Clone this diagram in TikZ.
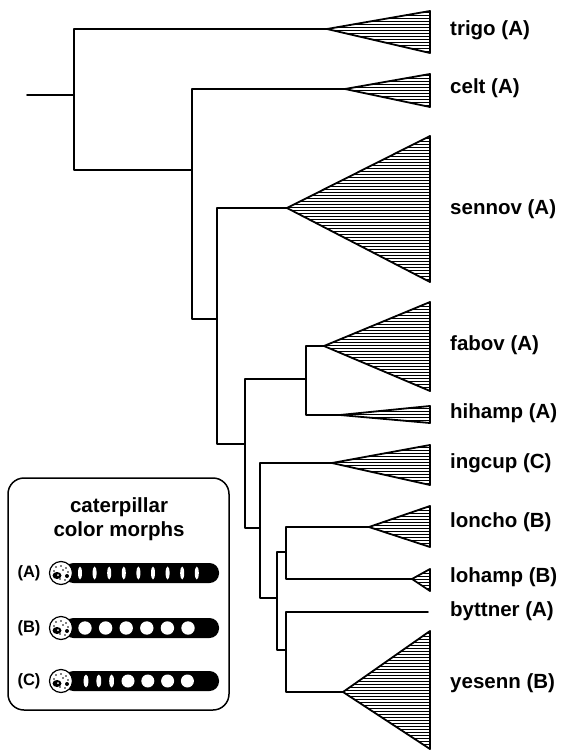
\documentclass[tikz,border=0pt]{standalone}
\usepackage{fontspec}
\setmainfont{Liberation Sans}
\newcommand{\clade}[3]{%
  \coordinate (#1-t) at (430,#2);
  \coordinate (#1-b) at (430,#3);
  \begin{scope}
    \clip (#1) -- (#1-t) -- (#1-b) -- cycle;
    \foreach \hy in {0,3,...,750} \draw [hatch] (280,\hy) -- (440,\hy);
  \end{scope}
  \draw [tri] (#1) -- (#1-t) -- (#1-b) -- cycle;
}
\newcommand{\larva}[1]{%
  \fill [rounded corners=9.5pt] (64,#1-10) rectangle (219,#1+10);
  \draw [line width=1.2pt,fill=white] (61,#1) circle (11.5pt);
  \fill (57,#1+2.5) ellipse (4.5pt and 3.5pt);
  \fill (67,#1+3) circle (2pt);
  \fill [white] (58,#1+2) circle (1pt);
  \foreach \dx/\dy in {-5/-6,0/-7,5/-5,-7/-2,2/-3,7/-1,-1/6,4/7} \fill (61+\dx,#1+\dy) circle (0.8pt);
}

\begin{document}
\begin{tikzpicture}[line cap=round,line join=round,x=1pt,y=-1pt,
  branch/.style={line width=1.7pt},
  tri/.style={line width=1.8pt},
  hatch/.style={line width=0.9pt},
  lab/.style={anchor=west,inner sep=0pt,font=\fontsize{20.5}{24}\selectfont\bfseries},
  morph/.style={inner sep=0pt,font=\fontsize{16.5}{18}\selectfont\bfseries}]

\useasboundingbox (0,0) rectangle (561,751);

% tree nodes
\coordinate (base) at (27,95);
\coordinate (r) at (74,95);
\coordinate (trigo) at (327,29);
\coordinate (n2) at (192,170);
\coordinate (celt) at (345,89);
\coordinate (n3) at (217,319);
\coordinate (sennov) at (287,208);
\coordinate (n4) at (245,444);
\coordinate (n5) at (306,379);
\coordinate (fabov) at (324,346);
\coordinate (hihamp) at (340,415);
\coordinate (n6) at (260,528);
\coordinate (ingcup) at (332,463);
\coordinate (n7) at (277,598);
\coordinate (n8) at (286,552);
\coordinate (loncho) at (369,527);
\coordinate (lohamp) at (412,579);
\coordinate (n9) at (286,650);
\coordinate (byttner) at (428,612);
\coordinate (yesenn) at (343,692);

\draw [branch] (base) -- (r);
\draw [branch] (r) |- (trigo);
\draw [branch] (r) |- (n2);
\draw [branch] (n2) |- (celt);
\draw [branch] (n2) |- (n3);
\draw [branch] (n3) |- (sennov);
\draw [branch] (n3) |- (n4);
\draw [branch] (n4) |- (n5);
\draw [branch] (n4) |- (n6);
\draw [branch] (n5) |- (fabov);
\draw [branch] (n5) |- (hihamp);
\draw [branch] (n6) |- (ingcup);
\draw [branch] (n6) |- (n7);
\draw [branch] (n7) |- (n8);
\draw [branch] (n7) |- (n9);
\draw [branch] (n8) |- (loncho);
\draw [branch] (n8) |- (lohamp);
\draw [branch] (n9) |- (byttner);
\draw [branch] (n9) |- (yesenn);

% clades
\clade{trigo}{11}{53}
\clade{celt}{74}{107}
\clade{sennov}{136}{282}
\clade{fabov}{302}{391}
\clade{hihamp}{406}{423}
\clade{ingcup}{445}{485}
\clade{loncho}{506}{547}
\clade{lohamp}{569}{591}
\clade{yesenn}{631}{749}

\node [lab] (ltrigo) at (450,30.5) {trigo (A)};
\node [lab] (lcelt) at (450,88) {celt (A)};
\node [lab] (lsennov) at (450,209) {sennov (A)};
\node [lab] (lfabov) at (450,345) {fabov (A)};
\node [lab] (lhihamp) at (450,413) {hihamp (A)};
\node [lab] (lingcup) at (450,463) {ingcup (C)};
\node [lab] (lloncho) at (450,522.5) {loncho (B)};
\node [lab] (llohamp) at (450,577) {lohamp (B)};
\node [lab] (lbyttner) at (450,611) {byttner (A)};
\node [lab] (lyesenn) at (450,683) {yesenn (B)};

% legend
\draw [line width=1.5pt,rounded corners=16pt] (8,478) rectangle (229,710);
\node [lab,anchor=center,align=center] (title) at (119,519) {caterpillar\\color morphs};

\node [morph] (mA) at (29,573) {(A)};
\larva{573}
\foreach \i in {0,...,8} \fill [white] (80+14.6*\i,573) ellipse (2pt and 6.5pt);

\node [morph] (mB) at (29,628) {(B)};
\larva{628}
\foreach \i in {0,...,5} \fill [white] (85+20.6*\i,628) circle (6.7pt);

\node [morph] (mC) at (29,681) {(C)};
\larva{681}
\foreach \i in {0,...,2} \fill [white] (86+12.8*\i,681) ellipse (2.4pt and 6.5pt);
\foreach \i in {0,...,3} \fill [white] (128+19.8*\i,681) circle (6.5pt);

\end{tikzpicture}
\end{document}
